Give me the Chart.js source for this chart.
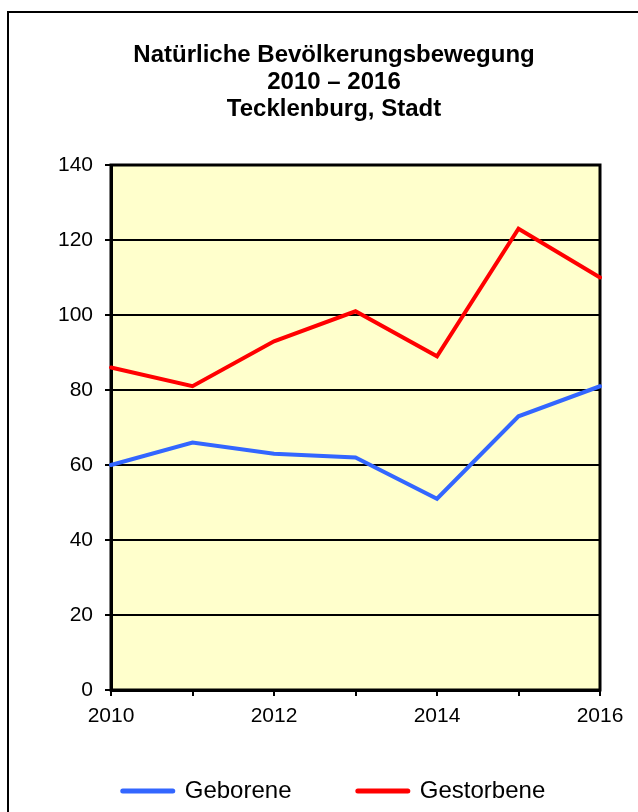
<!DOCTYPE html>
<html>
<head>
<meta charset="utf-8">
<script src="https://cdn.jsdelivr.net/npm/chart.js"></script>
<style>
  body { margin: 0; background: #fff; }
  #wrap { position: relative; width: 638px; height: 812px; overflow: hidden; }
  #frame { position: absolute; left: 7px; top: 11px; width: 700px; height: 900px;
           border-left: 2px solid #000; border-top: 2px solid #000; }
  #chart { position: absolute; left: 0; top: 0; }
</style>
</head>
<body>
<div id="wrap">
  <div id="frame"></div>
  <canvas id="chart" width="638" height="820"></canvas>
</div>
<script>
const years = ['2010', '2011', '2012', '2013', '2014', '2015', '2016'];
const geborene = [60, 66, 63, 62, 51, 73, 81];
const gestorbene = [86, 81, 93, 101, 89, 123, 110];
const titleLines = ['Natürliche Bevölkerungsbewegung', '2010 – 2016', 'Tecklenburg, Stadt'];

Chart.defaults.font.family = 'Arial, "Liberation Sans", sans-serif';
Chart.defaults.color = '#000';

// yellow plot area with a black frame
const plotFrame = {
  id: 'plotFrame',
  beforeDraw(chart) {
    const a = chart.chartArea, ctx = chart.ctx;
    ctx.save();
    ctx.fillStyle = '#FFFFCC';
    ctx.fillRect(a.left, a.top, a.right - a.left, a.bottom - a.top);
    ctx.restore();
  },
  beforeDatasetsDraw(chart) {
    const a = chart.chartArea, ctx = chart.ctx;
    ctx.save();
    ctx.strokeStyle = '#000';
    ctx.lineWidth = 3;
    ctx.strokeRect(a.left, a.top, a.right - a.left, a.bottom - a.top);
    ctx.restore();
  }
};

new Chart(document.getElementById('chart').getContext('2d'), {
  type: 'line',
  data: {
    labels: years,
    datasets: [
      { label: 'Geborene', data: geborene, borderColor: '#3366FF', backgroundColor: '#3366FF',
        borderWidth: 4, borderCapStyle: 'round', pointRadius: 0, tension: 0 },
      { label: 'Gestorbene', data: gestorbene, borderColor: '#FF0000', backgroundColor: '#FF0000',
        borderWidth: 4, borderCapStyle: 'round', pointRadius: 0, tension: 0 }
    ]
  },
  options: {
    responsive: false,
    animation: false,
    layout: { padding: { left: 30, right: 0, top: 42, bottom: 7 } },
    plugins: {
      title: {
        display: true,
        text: titleLines,
        color: '#000',
        font: { size: 24, weight: 'bold', lineHeight: 27 / 24 },
        padding: { top: 0, bottom: 42 }
      },
      legend: {
        position: 'bottom',
        align: 'center',
        labels: {
          usePointStyle: true,
          pointStyle: 'line',
          pointStyleWidth: 50,
          padding: 53,
          color: '#000',
          font: { size: 24 },
          generateLabels(chart) {
            const items = Chart.defaults.plugins.legend.labels.generateLabels(chart);
            // a bit more room after the first entry
            return items.map((it, i) => Object.assign(it, {
              text: i === 0 ? it.text + '  ' : it.text,
              lineWidth: 5,
              lineCap: 'round'
            }));
          }
        }
      },
      tooltip: { enabled: false }
    },
    scales: {
      x: {
        offset: false,
        afterFit(scale) { scale.height = 36; scale.paddingRight = 38; },
        grid: { drawOnChartArea: false, drawTicks: true, tickLength: 6, color: '#000', lineWidth: 2 },
        border: { color: '#000', width: 3 },
        ticks: {
          autoSkip: false, maxRotation: 0, padding: 8, color: '#000', font: { size: 21 },
          callback(value, index) { return index % 2 === 0 ? this.getLabelForValue(value) : ''; }
        }
      },
      y: {
        min: 0,
        max: 140,
        afterFit(scale) { scale.width = 81; },
        grid: { color: '#000', lineWidth: 2, tickLength: 6 },
        border: { color: '#000', width: 3 },
        ticks: { stepSize: 20, padding: 12, color: '#000', font: { size: 21 } }
      }
    }
  },
  plugins: [plotFrame]
});
</script>
</body>
</html>
